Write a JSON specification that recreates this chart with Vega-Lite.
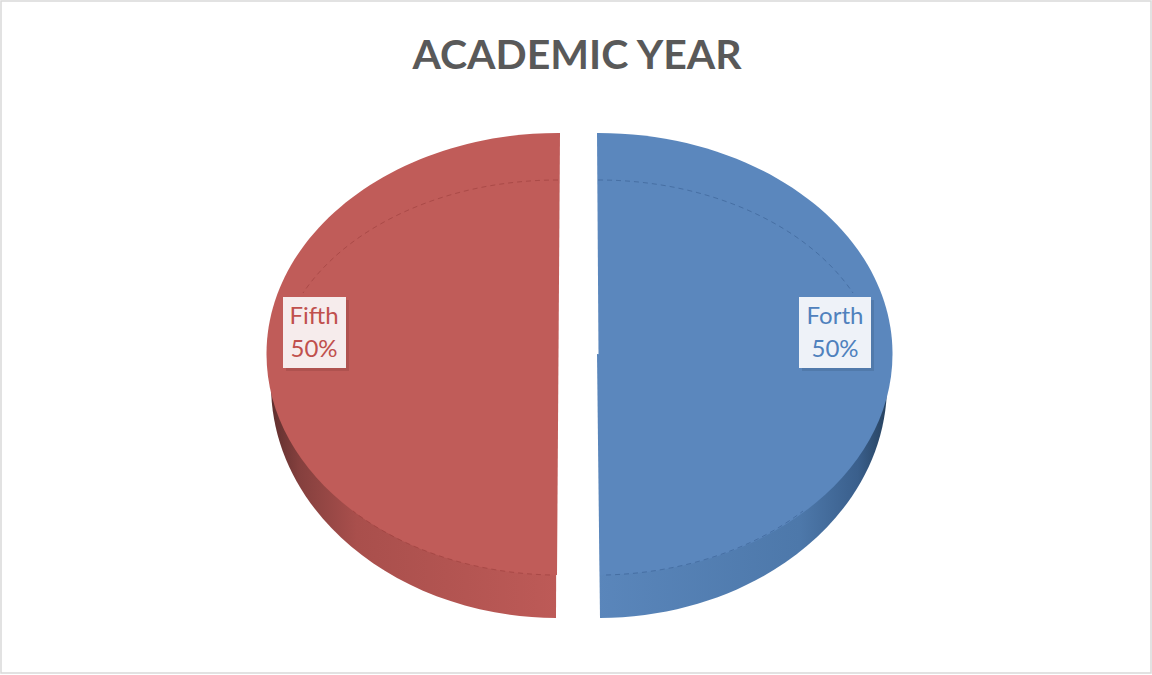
{"$schema":"https://vega.github.io/schema/vega-lite/v6.json","width":1150,"height":672,"autosize":"none","padding":{"left":1,"top":1,"right":1,"bottom":2},"background":"white","config":{"view":{"stroke":"#d9d9d9","strokeWidth":1.5}},"title":{"text":"ACADEMIC YEAR","font":"Lato","fontSize":41,"fontWeight":"bold","color":"#595959","anchor":"middle","offset":-77,"dx":1},"data":{"values":[{"category":"Fifth","share":50,"label":"Fifth\n50%"},{"category":"Forth","share":50,"label":"Forth\n50%"}]},"encoding":{"x":{"field":"category","type":"nominal","axis":null,"scale":{"type":"point","domain":["Fifth","Forth"],"range":[557,597],"padding":0}},"y":{"field":"share","type":"quantitative","axis":null,"scale":{"domain":[0,100],"range":[706,0]}}},"layer":[{"transform":[{"filter":"datum.category==='Fifth'"}],"layer":[{"mark":{"type":"point","size":4,"opacity":1,"filled":true,"shape":"M-2,264 A287,233 0 0 1 -287,31 L-1,0 Z","fill":{"gradient":"linear","x1":0,"x2":1,"y1":0,"y2":0,"stops":[{"offset":0,"color":"#5f2f2e"},{"offset":0.1,"color":"#85403e"},{"offset":0.3,"color":"#a94f4c"},{"offset":1,"color":"#bd5a57"}]}}},{"mark":{"type":"point","size":4,"opacity":1,"filled":true,"fill":"#c05c59","shape":"M2,-221 A292,221 0 0 0 -1,221 Z"}},{"mark":{"type":"point","size":4,"opacity":0.6,"filled":false,"stroke":"#9c3f3d","strokeWidth":1,"strokeDash":[5,4],"shape":"M0,-174 A282,198 0 0 0 -255,-61 M-8,221 A282,198 0 0 1 -205,157"}},{"mark":{"type":"point","size":4,"opacity":0.16,"filled":true,"fill":"#5a2220","shape":"M-272,-54 H-209 V17 H-272 Z"}},{"mark":{"type":"point","size":4,"opacity":1,"filled":true,"fill":"#f6ecec","shape":"M-275,-57 H-212 V14 H-275 Z"}},{"mark":{"type":"text","font":"Lato","fontSize":24,"lineHeight":33,"lineBreak":"\n","align":"center","baseline":"middle","fill":"#c0504d","dx":-244,"dy":-37},"encoding":{"text":{"field":"label"}}}]},{"transform":[{"filter":"datum.category==='Forth'"}],"layer":[{"mark":{"type":"point","size":4,"opacity":1,"filled":true,"shape":"M2,264 A289,233 0 0 0 289,31 L-1,0 Z","fill":{"gradient":"linear","x1":0,"x2":1,"y1":0,"y2":0,"stops":[{"offset":0,"color":"#5a86bb"},{"offset":0.7,"color":"#4d78aa"},{"offset":0.9,"color":"#3a5f8c"},{"offset":1,"color":"#27425f"}]}}},{"mark":{"type":"point","size":4,"opacity":1,"filled":true,"fill":"#5b87bd","shape":"M-1,-221 A294,221 0 0 1 2,221 Z"}},{"mark":{"type":"point","size":4,"opacity":0.6,"filled":false,"stroke":"#3a6093","strokeWidth":1,"strokeDash":[5,4],"shape":"M0,-174 A282,198 0 0 1 255,-61 M8,221 A282,198 0 0 0 205,157"}},{"mark":{"type":"point","size":4,"opacity":0.16,"filled":true,"fill":"#1f3550","shape":"M204,-54 H276 V17 H204 Z"}},{"mark":{"type":"point","size":4,"opacity":1,"filled":true,"fill":"#eef2f8","shape":"M201,-57 H273 V14 H201 Z"}},{"mark":{"type":"text","font":"Lato","fontSize":24,"lineHeight":33,"lineBreak":"\n","align":"center","baseline":"middle","fill":"#4f81bd","dx":237,"dy":-37},"encoding":{"text":{"field":"label"}}}]}]}
